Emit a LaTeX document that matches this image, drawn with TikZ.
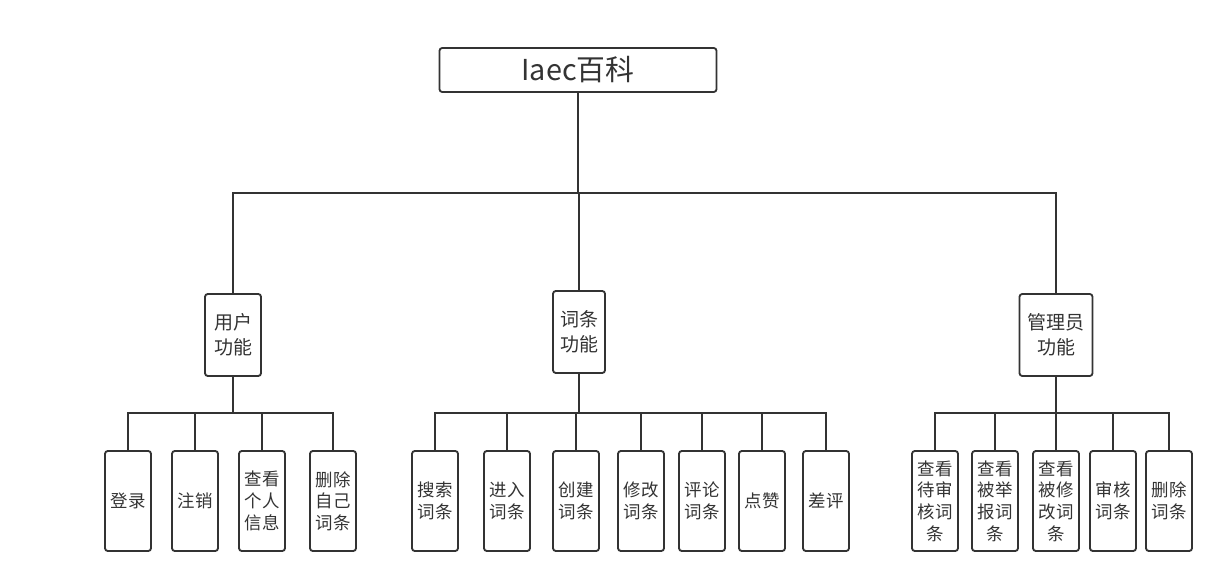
\documentclass[tikz,border=0pt]{standalone}
\usepackage{fontspec}
\setmainfont{Noto Sans CJK SC}
\usepackage{xcolor}
\definecolor{ln}{HTML}{333333}
\tikzset{
  box/.style={draw=ln, text=ln, line width=1.3pt, rounded corners=2pt, align=center, inner sep=0pt},
  midbox/.style={box, minimum height=2.05cm, font=\fontsize{13.5}{17.5}\selectfont},
  leafbox/.style={box, minimum width=1.15cm, minimum height=2.5cm, font=\fontsize{12.4}{15.4}\selectfont},
  wire/.style={draw=ln, line width=1.3pt}
}
\begin{document}
\begin{tikzpicture}[x=0.025cm,y=-0.025cm]
    \useasboundingbox (0,0) rectangle (1224,583);
    \node[box, minimum width=6.925cm, minimum height=1.1cm, font=\fontsize{20.5}{24}\selectfont] (root) at (578,70) {Iaec百科};
    \node[midbox, minimum width=1.4cm] (user) at (233,335) {用户\\功能};
    \node[midbox, minimum width=1.3cm] (entry) at (579,332) {词条\\功能};
    \node[midbox, minimum width=1.825cm] (admin) at (1056,335) {管理员\\功能};
    \draw[wire](root.south)--++(0,100)coordinate(bus);
    \foreach \n in {user,entry,admin}{
    \draw[wire](bus)-|(\n.north);
    }
    \foreach \x/\n/\t in {128/login/登录, 195/logout/注销, 262/info/查看\\个人\\信息, 333/delself/删除\\自己\\词条}{
    \node[leafbox] (\n) at (\x,501) {\t};
    \draw[wire](user.south)--++(0,36)-|(\n.north);
    }
    \foreach \x/\n/\t in {435/search/搜索\\词条, 507/enter/进入\\词条, 576/create/创建\\词条, 641/edit/修改\\词条, 702/comment/评论\\词条, 762/like/点赞, 826/dislike/差评}{
    \node[leafbox] (\n) at (\x,501) {\t};
    \draw[wire](entry.south)--++(0,39)-|(\n.north);
    }
    \foreach \x/\n/\t in {935/pending/查看\\待审\\核词\\条, 995/reported/查看\\被举\\报词\\条, 1056/modified/查看\\被修\\改词\\条, 1113/review/审核\\词条, 1169/delete/删除\\词条}{
    \node[leafbox] (\n) at (\x,501) {\t};
    \draw[wire](admin.south)--++(0,36)-|(\n.north);
    }
\end{tikzpicture}
\end{document}
